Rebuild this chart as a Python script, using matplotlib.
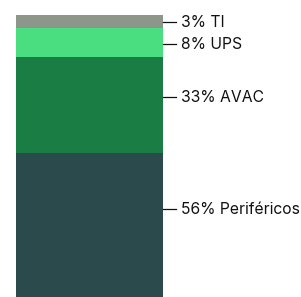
import matplotlib.pyplot as plt
import matplotlib.transforms as mtransforms

# Data (bottom to top)
categories = ['Periféricos', 'AVAC', 'UPS', 'TI']
shares = [56, 33, 8, 3]                 # percentages shown in labels
bar_sizes = [51.1, 34.0, 10.3, 4.6]     # segment heights as drawn
label_y = [31.2, 70.9, 89.7, 97.5]      # where each leader line sits
colors = ['#2b4a4c', '#1a7d43', '#4ade80', '#8d968a']

plt.rcParams['font.family'] = ['Inter', 'DejaVu Sans']

fig = plt.figure(figsize=(3.01, 2.97), dpi=100)
ax = fig.add_axes([16 / 301, 0, 147 / 301, 282 / 297])

bottom = 0
for size, color in zip(bar_sizes, colors):
    ax.bar(0, size, bottom=bottom, width=1, color=color, linewidth=0)
    bottom += size

ax.set_xlim(-0.5, 0.5)
ax.set_ylim(0, 100)
ax.axis('off')

# Leader lines and labels
trans = mtransforms.blended_transform_factory(ax.transAxes, ax.transData)
for cat, share, y in zip(categories, shares, label_y):
    ax.plot([1.0, 1.09], [y, y], color='#111111', lw=0.9,
            transform=trans, clip_on=False)
    ax.text(1.12, y, f'{share}% {cat}', transform=trans, va='center',
            ha='left', fontsize=11.3, color='#111111')

fig.savefig('out.png', dpi=100)
